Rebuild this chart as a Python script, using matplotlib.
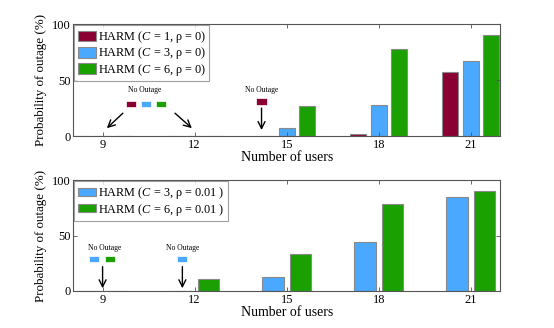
import matplotlib
matplotlib.use("Agg")
import matplotlib.pyplot as plt
from matplotlib.patches import Rectangle
import numpy as np

plt.rcParams['font.family'] = ['Liberation Serif', 'DejaVu Serif']
plt.rcParams['mathtext.fontset'] = 'custom'
plt.rcParams['mathtext.rm'] = 'Liberation Serif'
plt.rcParams['mathtext.it'] = 'Liberation Serif:italic'

users = [9, 12, 15, 18, 21]
top_c1 = [0, 0, 0, 2, 57]
top_c3 = [0, 0, 7, 28, 67]
top_c6 = [0, 0, 27, 78, 90]
bot_c3 = [0, 0, 13, 44, 85]
bot_c6 = [0, 11, 33, 78, 90]

top_labels = ['HARM ($C$ = 1, ρ = 0)', 'HARM ($C$ = 3, ρ = 0)', 'HARM ($C$ = 6, ρ = 0)']
bot_labels = ['HARM ($C$ = 3, ρ = 0.01 )', 'HARM ($C$ = 6, ρ = 0.01 )']

RED = '#8A0033'
BLUE = '#4AA8FF'
GREEN = '#1AA000'
EDGE = '#8a8a8a'
SPINE = '#555555'

fig = plt.figure(figsize=(5.54, 3.28), dpi=100)
ax1 = fig.add_axes([0.132, 0.585, 0.771, 0.341])
ax2 = fig.add_axes([0.132, 0.113, 0.771, 0.338])

x = np.array(users, dtype=float)

w1 = 0.53
off1 = 0.67
ax1.bar(x - off1, top_c1, w1, color=RED, edgecolor=EDGE, linewidth=0.8, label=top_labels[0])
ax1.bar(x, top_c3, w1, color=BLUE, edgecolor=EDGE, linewidth=0.8, label=top_labels[1])
ax1.bar(x + off1, top_c6, w1, color=GREEN, edgecolor=EDGE, linewidth=0.8, label=top_labels[2])

w2 = 0.7
off2 = 0.45
ax2.bar(x - off2, bot_c3, w2, color=BLUE, edgecolor=EDGE, linewidth=0.8, label=bot_labels[0])
ax2.bar(x + off2, bot_c6, w2, color=GREEN, edgecolor=EDGE, linewidth=0.8, label=bot_labels[1])

for ax, hh, ls in ((ax1, 1.0, 0.02), (ax2, 0.65, 0.05)):
    ax.set_xlim(8.04, 21.96)
    ax.set_ylim(0, 100)
    ax.set_xticks(users)
    ax.set_yticks([0, 50, 100])
    ax.tick_params(direction='in', top=True, right=True, length=3, width=0.6,
                   color=SPINE, labelsize=9, pad=2)
    for s in ax.spines.values():
        s.set_color(SPINE)
        s.set_linewidth(0.8)
    ax.set_xlabel('Number of users', fontsize=10, labelpad=0)
    ax.set_ylabel('Probability of outage (%)', fontsize=9.4, labelpad=3)
    leg = ax.legend(loc='upper left', fontsize=8.8, frameon=True, fancybox=False,
                    borderaxespad=0.1, handlelength=1.45, handleheight=hh,
                    handletextpad=0.15, borderpad=0.3, labelspacing=ls)
    leg.get_frame().set_edgecolor('#888888')
    leg.get_frame().set_linewidth(0.8)

def square(ax, xc, yc, color, w=0.33, h=5.5):
    ax.add_patch(Rectangle((xc - w / 2, yc - h / 2), w, h, facecolor=color,
                           edgecolor='white', linewidth=0.5, zorder=3))

def arrow(ax, x0, y0, x1, y1):
    ax.annotate('', xy=(x1, y1), xytext=(x0, y0),
                arrowprops=dict(arrowstyle='->,head_length=0.5,head_width=0.25',
                                color='black', lw=1.0, shrinkA=0, shrinkB=0))

# top annotations
ax1.text(10.38, 41, 'No Outage', fontsize=5.5, ha='center', va='center')
square(ax1, 9.92, 28.6, RED)
square(ax1, 10.41, 28.6, BLUE)
square(ax1, 10.90, 28.6, GREEN)
arrow(ax1, 9.66, 20.5, 9.14, 7.1)
arrow(ax1, 11.36, 20.5, 11.91, 7.1)
ax1.text(14.18, 41, 'No Outage', fontsize=5.5, ha='center', va='center')
square(ax1, 14.18, 31, RED)
arrow(ax1, 14.18, 25, 14.18, 5.4)

# bottom annotations
ax2.text(9.08, 38.7, 'No Outage', fontsize=5.5, ha='center', va='center')
square(ax2, 8.73, 28.5, BLUE)
square(ax2, 9.24, 28.5, GREEN)
arrow(ax2, 9.0, 21.9, 9.0, 2.4)
ax2.text(11.61, 38.7, 'No Outage', fontsize=5.5, ha='center', va='center')
square(ax2, 11.58, 28.5, BLUE)
arrow(ax2, 11.6, 21.9, 11.6, 2.4)

fig.savefig('out.png', dpi=100)
